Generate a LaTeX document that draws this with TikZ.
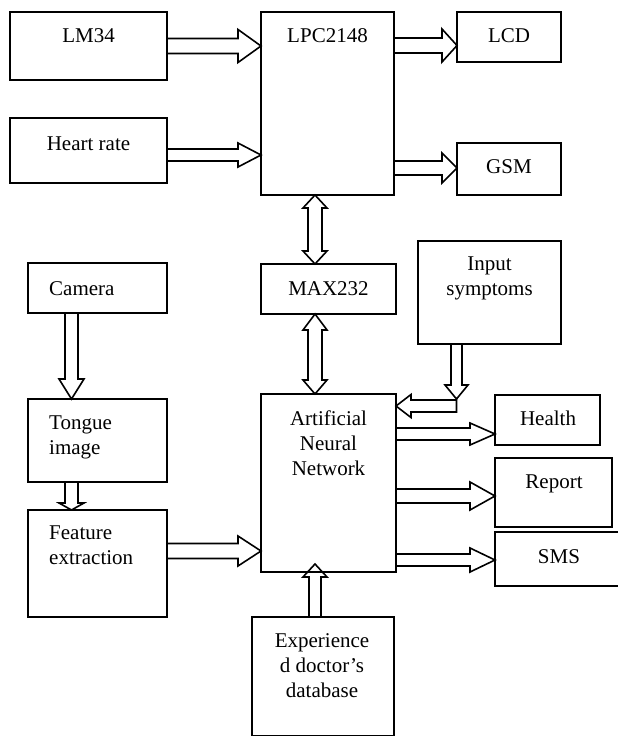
\documentclass[tikz,border=0pt]{standalone}
\usepackage{fontspec}
\setmainfont{Liberation Serif}
\usetikzlibrary{calc}
\tikzset{
  box/.style={draw, line width=1.6pt, inner sep=0pt, outer sep=0pt, anchor=north west},
  txt/.style={inner sep=0pt, anchor=north, align=center, font=\fontsize{21}{25}\selectfont},
  ltxt/.style={inner sep=0pt, anchor=north west, align=left, font=\fontsize{21}{25}\selectfont},
  blk/.style={draw, line width=1.6pt, line join=miter}
}
% box: name, x1, y1, x2, y2 (pixel coordinates, y downwards)
\newcommand\boxnode[5]{\node[box, minimum width={(#4-#2)*1pt}, minimum height={(#5-#3)*1pt}] (#1) at (#2,#3) {};}
% block arrows: from, to, half shaft, half head, head length
\newcommand\arrR[5]{\draw[blk] let \p1=(#1), \p2=(#2) in
  (\x1,\y1+#3pt) -- (\x2-#5pt,\y1+#3pt) -- (\x2-#5pt,\y1+#4pt) -- (\x2,\y1) -- (\x2-#5pt,\y1-#4pt) -- (\x2-#5pt,\y1-#3pt) -- (\x1,\y1-#3pt) -- cycle;}
\newcommand\arrL[5]{\draw[blk] let \p1=(#1), \p2=(#2) in
  (\x1,\y1+#3pt) -- (\x2+#5pt,\y1+#3pt) -- (\x2+#5pt,\y1+#4pt) -- (\x2,\y1) -- (\x2+#5pt,\y1-#4pt) -- (\x2+#5pt,\y1-#3pt) -- (\x1,\y1-#3pt) -- cycle;}
\newcommand\arrD[5]{\draw[blk] let \p1=(#1), \p2=(#2) in
  (\x1+#3pt,\y1) -- (\x1+#3pt,\y2+#5pt) -- (\x1+#4pt,\y2+#5pt) -- (\x1,\y2) -- (\x1-#4pt,\y2+#5pt) -- (\x1-#3pt,\y2+#5pt) -- (\x1-#3pt,\y1) -- cycle;}
\newcommand\arrU[5]{\draw[blk] let \p1=(#1), \p2=(#2) in
  (\x1+#3pt,\y1) -- (\x1+#3pt,\y2-#5pt) -- (\x1+#4pt,\y2-#5pt) -- (\x1,\y2) -- (\x1-#4pt,\y2-#5pt) -- (\x1-#3pt,\y2-#5pt) -- (\x1-#3pt,\y1) -- cycle;}
\newcommand\arrV[6]{\draw[blk] let \p1=(#1), \p2=(#2) in
  (\x1,\y1) -- (\x1+#4pt,\y1-#5pt) -- (\x1+#3pt,\y1-#5pt) -- (\x1+#3pt,\y2+#6pt) -- (\x1+#4pt,\y2+#6pt) -- (\x1,\y2)
  -- (\x1-#4pt,\y2+#6pt) -- (\x1-#3pt,\y2+#6pt) -- (\x1-#3pt,\y1-#5pt) -- (\x1-#4pt,\y1-#5pt) -- cycle;}
\begin{document}
\begin{tikzpicture}[x=1pt, y=-1pt]
\useasboundingbox (0,0) rectangle (618,736);
% boxes
\boxnode{lm34}{10}{12}{167}{80}
\boxnode{lpc}{261}{12}{394}{195}
\boxnode{lcd}{457}{12}{561}{62}
\boxnode{hr}{10}{118}{167}{183}
\boxnode{gsm}{457}{143}{561}{195}
\boxnode{camera}{28}{263}{167}{313}
\boxnode{max}{261}{264}{396}{314}
\boxnode{inp}{418}{241}{561}{344}
\boxnode{tongue}{28}{399}{167}{482}
\boxnode{ann}{261}{394}{396}{572}
\boxnode{health}{495}{395}{600}{445}
\boxnode{report}{495}{458}{612}{527}
\boxnode{sms}{495}{532}{623}{586}
\boxnode{feat}{28}{510}{167}{617}
\boxnode{db}{252}{617}{394}{736}
% texts
\node[txt] (lm34-t) at (88.5,28) {LM34};
\node[txt] (lpc-t) at (327.5,28) {LPC2148};
\node[txt] (lcd-t) at (509,28) {LCD};
\node[txt] (hr-t) at (88.5,137) {Heart rate};
\node[txt] (gsm-t) at (509,159) {GSM};
\node[ltxt] (camera-t) at (49,281) {Camera};
\node[txt] (max-t) at (328.5,281) {MAX232};
\node[txt] (inp-t) at (489.5,257) {Input\\symptoms};
\node[ltxt] (tongue-t) at (49,416) {Tongue\\image};
\node[txt] (ann-t) at (328.5,411) {Artificial\\Neural\\Network};
\node[txt] (health-t) at (548,411) {Health};
\node[txt] (report-t) at (554,475) {Report};
\node[txt] (sms-t) at (559,549) {SMS};
\node[ltxt] (feat-t) at (49,526) {Feature\\extraction};
\node[txt] (db-t) at (322,633) {Experience\\d doctor’s\\database};
% connectors
\coordinate (bend) at (456.5,406);
\arrR{lm34.east}{lpc.west}{7.5}{16.5}{23}
\arrR{$(hr.east)+(0,4.5)$}{lpc.west}{6}{12}{23}
\arrR{$(lpc.east |- lcd.west)+(0,8.5)$}{lcd.west}{7.5}{16.5}{15}
\arrR{$(lpc.east |- gsm.west)+(0,-1)$}{gsm.west}{7}{15}{15}
\arrD{$(camera.south)+(-26,0)$}{tongue.north}{6.5}{12.5}{20}
\arrD{$(tongue.south)+(-26,0)$}{feat.north}{6.5}{12.5}{7}
\arrR{$(feat.east)+(0,-12.5)$}{ann.west}{7.5}{15}{23}
\arrV{$(lpc.south)+(-12.5,0)$}{max.north}{7}{12}{13}{13}
\arrV{$(max.south)+(-13.5,0)$}{ann.north}{7}{12}{16}{14}
\arrD{$(inp.south)+(-33,0)$}{$(bend)+(0,-7)$}{5.5}{11.5}{14}
\arrL{bend}{ann.east}{6}{11.5}{15}
\arrR{$(ann.east |- health.west)+(0,14)$}{health.west}{6}{11}{25}
\arrR{$(ann.east |- report.west)+(0,3.5)$}{report.west}{7}{14}{25}
\arrR{$(ann.east |- sms.west)+(0,1)$}{sms.west}{6}{12}{25}
\arrU{$(db.north)+(-8,0)$}{$(ann.south)+(0,-8)$}{6}{12}{13}
\end{tikzpicture}
\end{document}
